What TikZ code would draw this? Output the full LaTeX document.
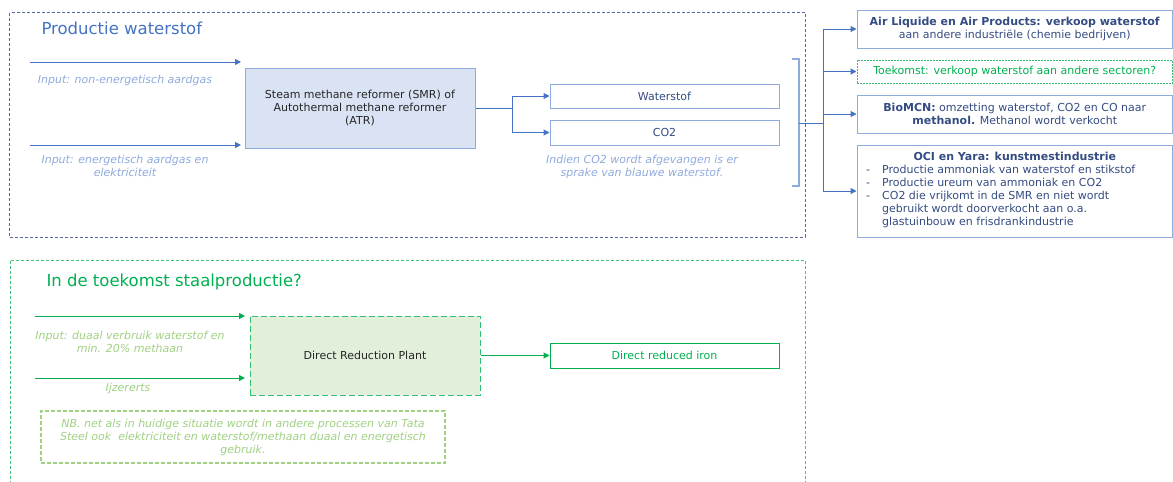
\documentclass[tikz,border=0pt]{standalone}
\usepackage{fontspec}
\setmainfont{DejaVu Sans}
\usetikzlibrary{arrows.meta}

\definecolor{frameblue}{RGB}{84,106,158}
\definecolor{flowblue}{RGB}{68,114,196}
\definecolor{paleblue}{RGB}{143,170,220}
\definecolor{smrfill}{RGB}{218,227,243}
\definecolor{inkblue}{RGB}{52,76,130}
\definecolor{flowgreen}{RGB}{0,176,80}
\definecolor{palegreen}{RGB}{160,208,130}
\definecolor{drpfill}{RGB}{226,239,218}
\definecolor{inkgray}{RGB}{38,38,38}

\newcommand{\bodysize}{\fontsize{11}{13}\selectfont}
\newcommand{\headsize}{\fontsize{16.5}{19}\selectfont}

\begin{document}
\begin{tikzpicture}[x=1pt, y=-1pt, font=\bodysize,
  blueflow/.style={draw=flowblue, line width=1pt, -{Triangle[length=6pt,width=6pt]}},
  greenflow/.style={draw=flowgreen, line width=1pt, -{Triangle[length=6pt,width=6pt]}},
  blueline/.style={draw=flowblue, line width=1pt},
  lblblue/.style={text=paleblue, font=\bodysize\itshape, align=center},
  lblgreen/.style={text=palegreen, font=\bodysize\itshape, align=center},
  outbox/.style={draw=paleblue, line width=1pt, text=inkblue, align=center, inner sep=0pt}
]
\useasboundingbox (0,0) rectangle (1173,482);

% productie waterstof
\draw[frameblue, line width=1pt, dash pattern=on 3pt off 2pt] (9.5,12.5) rectangle (805,237);
\node[text=flowblue, font=\headsize, anchor=west] (ttop) at (38,28) {Productie waterstof};

\coordinate (in1a) at (30,62);
\coordinate (in1b) at (241,62);
\coordinate (in2a) at (30,145);
\coordinate (in2b) at (241,145);
\draw[blueflow] (in1a) -- (in1b);
\draw[blueflow] (in2a) -- (in2b);
\node[lblblue] (in1lbl) at (125,80) {Input: non-energetisch aardgas};
\node[lblblue] (in2lbl) at (125,166) {Input: energetisch aardgas en\\elektriciteit};

\node[draw=paleblue, fill=smrfill, line width=1pt, text=inkgray, align=center,
  minimum width=230pt, minimum height=80pt] (smr) at (360,108)
  {Steam methane reformer (SMR) of\\Autothermal methane reformer\\(ATR)};

\node[outbox, minimum width=229pt, minimum height=24pt] (water) at (664.5,96) {Waterstof};
\node[outbox, minimum width=229pt, minimum height=25pt] (co2) at (664.5,132.5) {CO2};
\node[lblblue] (co2note) at (642,167) {Indien CO2 wordt afgevangen is er\\sprake van blauwe waterstof.};

\coordinate (fork) at (512,108);
\draw[blueline] (smr.east) -- (fork);
\draw[blueflow] (fork) |- (water.west);
\draw[blueflow] (fork) |- (co2.west);

% afnemers
\draw[paleblue, line width=1.2pt] (792,59) -- (799,59) -- (799,186) -- (792,186);
\coordinate (brk) at (799,123);
\coordinate (trunk) at (823,123);
\draw[blueline] (brk) -- (trunk);

\node[outbox, minimum width=315.5pt, minimum height=38pt] (airliq) at (1014.75,29)
  {\textbf{Air Liquide en Air Products: verkoop waterstof}\\aan andere industriële (chemie bedrijven)};
\node[draw=flowgreen!80, line width=1pt, dash pattern=on 2pt off 1pt, text=flowgreen,
  minimum width=315.5pt, minimum height=23pt, inner sep=0pt] (toekomst) at (1014.75,71.5)
  {Toekomst: verkoop waterstof aan andere sectoren?};
\node[outbox, minimum width=315.5pt, minimum height=38pt] (biomcn) at (1014.75,114)
  {\textbf{BioMCN:} omzetting waterstof, CO2 en CO naar\\\textbf{methanol.} Methanol wordt verkocht};
\node[outbox, minimum width=315.5pt, minimum height=92pt] (oci) at (1014.75,191) {};
\node[text=inkblue, anchor=base, inner sep=0pt] (ocihead) at (1014.75,160)
  {\textbf{OCI en Yara: kunstmestindustrie}};
\node[text=inkblue, anchor=north west, inner sep=0pt] (ocilist) at (866,164)
  {\begin{tabular}{@{}l@{\hspace{12pt}}l@{}}
  - & Productie ammoniak van waterstof en stikstof\\
  - & Productie ureum van ammoniak en CO2\\
  - & CO2 die vrijkomt in de SMR en niet wordt\\
    & gebruikt wordt doorverkocht aan o.a.\\
    & glastuinbouw en frisdrankindustrie
  \end{tabular}};

\draw[blueflow] (trunk) |- (airliq.west);
\draw[blueflow] (trunk) |- (toekomst.west);
\draw[blueflow] (trunk) |- (biomcn.west);
\draw[blueflow] (trunk) |- (oci.west);

% staalproductie
\draw[flowgreen!75, line width=1pt, dash pattern=on 3pt off 2pt] (10.5,260.5) rectangle (805,495);
\node[text=flowgreen, font=\headsize, anchor=west] (tbot) at (43,282) {In de toekomst staalproductie?};

\coordinate (in3a) at (35,316);
\coordinate (in3b) at (245,316);
\coordinate (in4a) at (35,378);
\coordinate (in4b) at (245,378);
\draw[greenflow] (in3a) -- (in3b);
\draw[greenflow] (in4a) -- (in4b);
\node[lblgreen] (in3lbl) at (130,342) {Input: duaal verbruik waterstof en\\min. 20\% methaan};
\node[lblgreen] (in4lbl) at (128,388) {Ijzererts};

\node[draw=flowgreen!80, fill=drpfill, line width=1pt, dash pattern=on 6pt off 3pt,
  text=inkgray, minimum width=230pt, minimum height=79pt] (drp) at (365,355.5) {Direct Reduction Plant};
\node[draw=flowgreen, line width=1pt, text=flowgreen, minimum width=229pt, minimum height=25pt,
  inner sep=0pt] (dri) at (664.5,355.5) {Direct reduced iron};
\draw[greenflow] (drp.east) -- (dri.west);

\node[draw=palegreen, line width=1.2pt, dash pattern=on 4pt off 2pt, text=palegreen,
  font=\bodysize\itshape, align=center, minimum width=404pt, minimum height=52pt,
  inner sep=0pt] (nb) at (243,437)
  {NB. net als in huidige situatie wordt in andere processen van Tata\\Steel ook \ elektriciteit en waterstof/methaan duaal en energetisch\\gebruik.};
\end{tikzpicture}
\end{document}
